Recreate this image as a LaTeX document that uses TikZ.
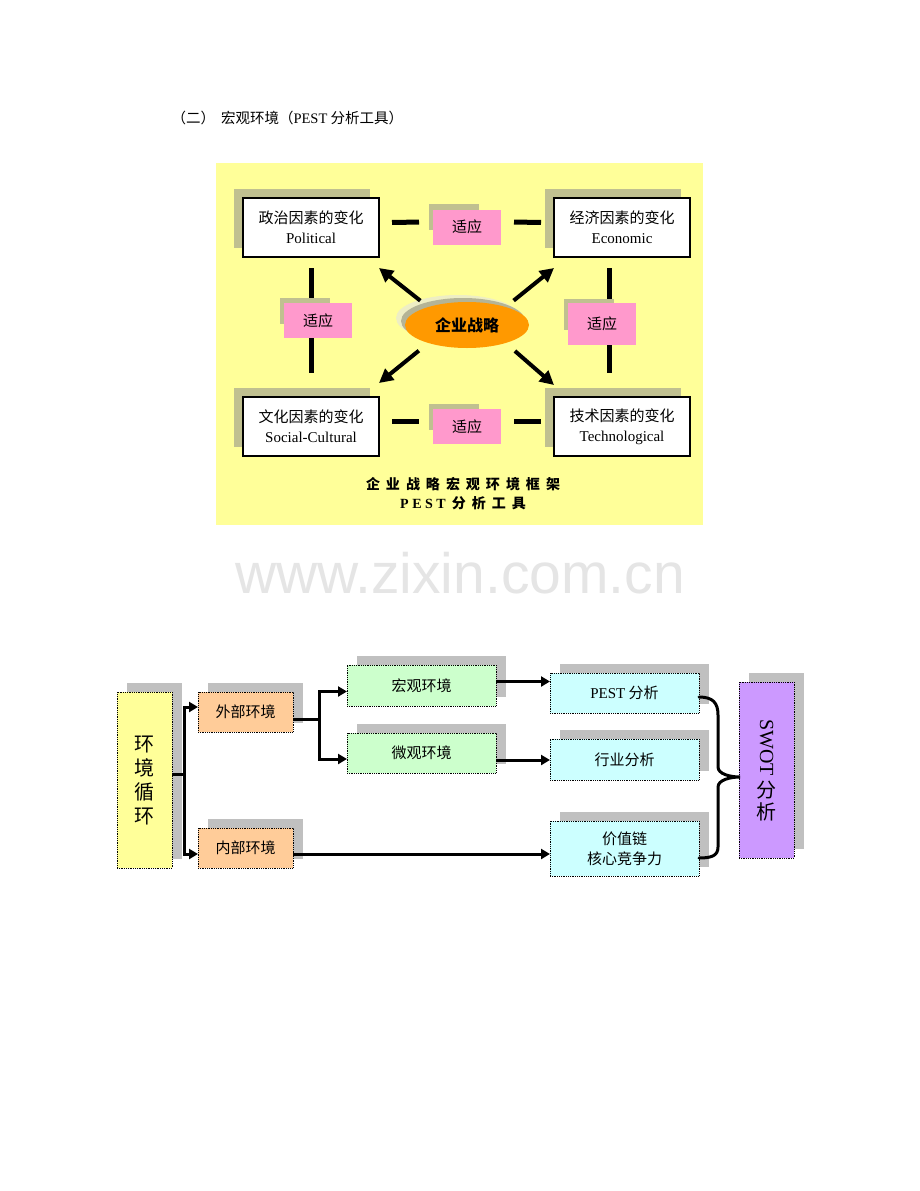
\documentclass[tikz,border=0pt]{standalone}
\usepackage{fontspec}
\setmainfont{Liberation Serif}
\newfontfamily\cjk{Noto Sans CJK SC}
\newfontfamily\wmfont{Liberation Sans}
\usepackage{graphicx}
\usetikzlibrary{positioning,arrows.meta,shadows,shapes.geometric}

\definecolor{panelyellow}{HTML}{FFFF99}
\definecolor{olivegray}{HTML}{C0C090}
\definecolor{adaptpink}{HTML}{FF99CC}
\definecolor{coreorange}{HTML}{FF9900}
\definecolor{corebeige}{HTML}{EEEEC4}
\definecolor{coregray}{HTML}{B4B496}
\definecolor{cycyellow}{HTML}{FFFF99}
\definecolor{envorange}{HTML}{FFCC99}
\definecolor{envgreen}{HTML}{CCFFCC}
\definecolor{toolcyan}{HTML}{CCFFFF}
\definecolor{swotpurple}{HTML}{CC99FF}
\definecolor{boxshadow}{HTML}{C0C0C0}

\newcommand\fs[2]{\fontsize{#1pt}{#2pt}\selectfont}
\newcommand\tgap{\hspace{6pt}}

\begin{document}
\begin{tikzpicture}[
    x=1pt, y=-1pt,
    factor/.style={draw, line width=1.2pt, fill=white, minimum width=136pt, minimum height=59pt,
      inner sep=0pt, outer sep=0pt, align=center, font=\fs{15}{20},
      drop shadow={shadow xshift=-9pt, shadow yshift=9pt, fill=olivegray, opacity=1}},
    adapt/.style={fill=adaptpink, minimum width=68pt, minimum height=35pt, inner sep=0pt, outer sep=0pt,
      font=\cjk\fs{15}{18},
      drop shadow={shadow xshift=-18pt, shadow yshift=13pt, shadow scale=0.74, fill=olivegray, opacity=1}},
    core/.style={ellipse, fill=coreorange, minimum width=124pt, minimum height=46pt, inner sep=0pt,
      font=\cjk\bfseries\fs{16}{18},
      drop shadow={shadow xshift=-9pt, shadow yshift=7pt, fill=corebeige, opacity=1},
      drop shadow={shadow xshift=-4pt, shadow yshift=4pt, fill=coregray, opacity=1}},
    fitline/.style={line width=5pt},
    push/.style={line width=4pt, -{Triangle[length=14pt,width=14pt]}},
    cell/.style={draw, densely dotted, line width=0.8pt, inner sep=0pt, outer sep=0pt, align=center,
      font=\cjk\fs{15}{20},
      drop shadow={shadow xshift=10pt, shadow yshift=9pt, fill=boxshadow, opacity=1}},
    link/.style={line width=3pt},
    linkarrow/.style={line width=3pt, -{Triangle[length=9pt,width=10pt]}},
    brace/.style={line width=3pt, line cap=round}
]
\useasboundingbox (0,0) rectangle (920,1191);
\fill[white] (0,0) rectangle (920,1191);

% heading
\node[anchor=west, font=\cjk\fs{14.5}{17}] (heading) at (168,118)
  {（二）\hspace{6pt}宏观环境（{\rmfamily PEST} 分析工具）};

% PEST frame
\fill[panelyellow] (216,163) rectangle (703,525);

\node[factor] (pol) at (311,227.5) {{\cjk 政治因素的变化}\\Political};
\node[factor] (eco) at (622,227.5) {{\cjk 经济因素的变化}\\Economic};
\node[factor] (soc) at (311,426.5) {{\cjk 文化因素的变化}\\Social-Cultural};
\node[factor] (tec) at (622,426.5) {{\cjk 技术因素的变化}\\Technological};

\draw[fitline, shorten <=11pt, shorten >=24pt] (pol.south) -- (soc.north);
\draw[fitline, shorten <=11pt, shorten >=24pt] ([xshift=-13pt]eco.south) -- ([xshift=-13pt]tec.north);

\node[adapt] (fitPE) at (467,227) {适应};
\node[adapt] (fitPS) at (318,320.5) {适应};
\node[adapt, minimum height=42pt] (fitET) at (602,324) {适应};
\node[adapt] (fitST) at (467,426.5) {适应};

\draw[fitline, shorten <=13pt, shorten >=14pt] ([yshift=5pt]pol.east) -- ([yshift=5pt]fitPE.west);
\draw[fitline, shorten <=13pt, shorten >=13pt] ([yshift=5pt]fitPE.east) -- ([yshift=5pt]eco.west);
\draw[fitline, shorten <=13pt, shorten >=14pt] ([yshift=5pt]soc.east) -- ([yshift=5pt]fitST.west);
\draw[fitline, shorten <=13pt, shorten >=13pt] ([yshift=5pt]fitST.east) -- ([yshift=5pt]tec.west);

\node[core] (core) at (467,325) {企业战略};

\draw[push, shorten <=10pt] (core.155) -- ([yshift=-11pt]pol.south east);
\draw[push, shorten <=10pt] (core.25) -- ([yshift=-11pt]eco.south west);
\draw[push, shorten <=12pt] (core.205) -- ([yshift=14pt]soc.north east);
\draw[push, shorten <=12pt] (core.335) -- ([yshift=12pt]tec.north west);

\node[font=\cjk\bfseries\fs{14}{19}, align=center] (frametitle) at (463,494)
  {企\tgap 业\tgap 战\tgap 略\tgap 宏\tgap 观\tgap 环\tgap 境\tgap 框\tgap 架\\
   {\rmfamily P\hspace{3.5pt}E\hspace{3.5pt}S\hspace{3.5pt}T}\tgap 分\tgap 析\tgap 工\tgap 具};

% watermark
\node[font=\wmfont\fs{57}{60}, text=black!10, anchor=base] (watermark) at (460,593) {www.zixin.com.cn};

% environment scan
\node[cell, fill=cycyellow, minimum width=55pt, minimum height=176pt, font=\cjk\fs{20}{24}] (cycle) at (144.5,780) {环\\境\\循\\环};
\node[cell, fill=envorange, minimum width=95pt, minimum height=40pt] (outer) at (245.5,712) {外部环境};
\node[cell, fill=envorange, minimum width=95pt, minimum height=40pt] (inner) at (245.5,848) {内部环境};
\node[cell, fill=envgreen, minimum width=149pt, minimum height=41pt] (macro) at (421.5,685.5) {宏观环境};
\node[cell, fill=envgreen, minimum width=149pt, minimum height=40pt] (micro) at (421.5,753) {微观环境};
\node[cell, fill=toolcyan, minimum width=149pt, minimum height=40pt] (pest) at (624.5,693) {{\rmfamily PEST} 分析};
\node[cell, fill=toolcyan, minimum width=149pt, minimum height=41pt] (industry) at (624.5,759.5) {行业分析};
\node[cell, fill=toolcyan, minimum width=149pt, minimum height=55pt] (value) at (624.5,848.5) {价值链\\核心竞争力};
\node[cell, fill=swotpurple, minimum width=55pt, minimum height=176pt, font=\fs{20}{22}] (swot) at (766.5,770)
  {\rotatebox{-90}{SWOT}\\[4pt]{\cjk 分}\\{\cjk 析}};

\draw[link] ([yshift=6pt]cycle.east) -- ++(12,0) coordinate (forkA);
\draw[linkarrow] (forkA) |- ([yshift=5pt]outer.west);
\draw[linkarrow] (forkA) |- ([yshift=-6pt]inner.west);
\draw[link] ([yshift=-7pt]outer.east) -- ++(26,0) coordinate (forkB);
\draw[linkarrow] (forkB) |- ([yshift=-6pt]macro.west);
\draw[linkarrow] (forkB) |- ([yshift=-6pt]micro.west);

\coordinate (macroout) at ([yshift=4pt]macro.east);
\draw[linkarrow] (macroout) -- (macroout -| pest.west);
\coordinate (microout) at ([yshift=-7pt]micro.east);
\draw[linkarrow] (microout) -- (microout -| industry.west);
\coordinate (innerout) at ([yshift=-6pt]inner.east);
\draw[linkarrow] (innerout) -- (innerout -| value.west);

% brace into SWOT
\draw[brace] ([yshift=-4pt]pest.east)
  .. controls +(14,0) and +(0,-12) .. ++(19,18)
  -- ++(0,52)
  .. controls +(0,7) and +(-10,0) .. ++(22,10) coordinate (bracetip)
  .. controls +(-10,0) and +(0,-7) .. ++(-22,10)
  -- ++(0,60)
  .. controls +(0,9) and +(12,0) .. ++(-19,11);

\end{tikzpicture}
\end{document}
